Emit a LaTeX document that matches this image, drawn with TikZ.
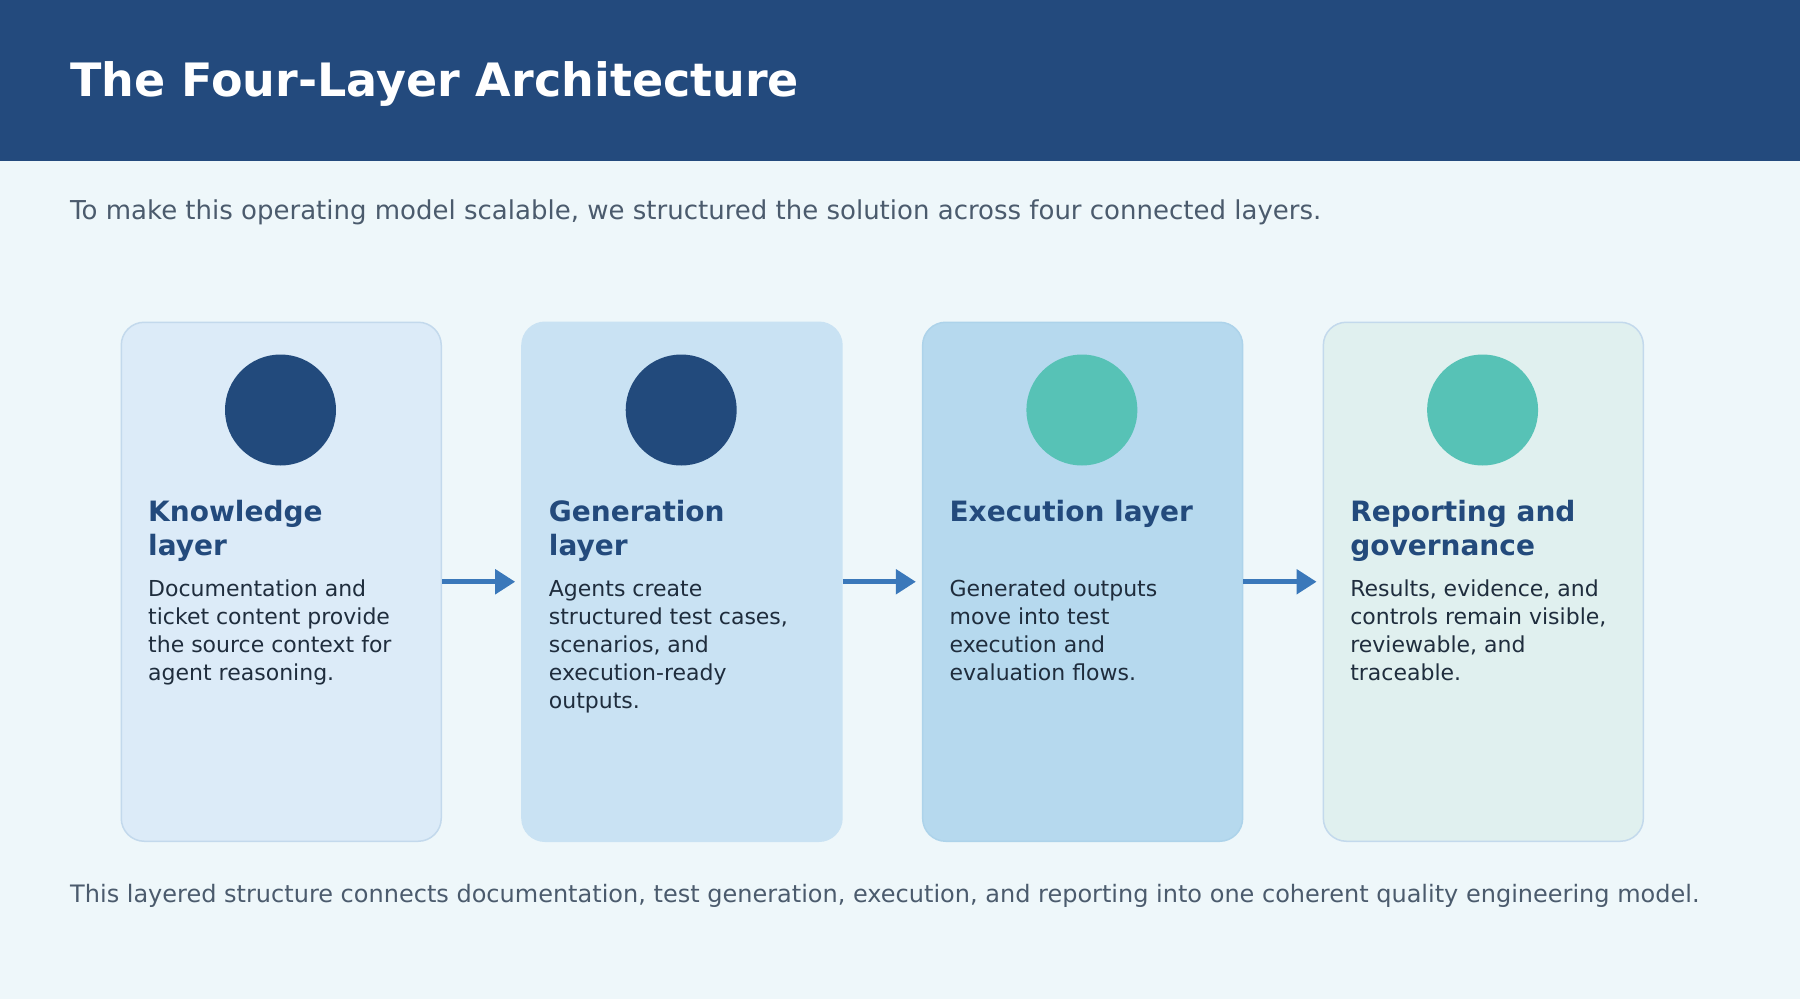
\documentclass[tikz,border=0pt]{standalone}
\usepackage{fontspec}
\setmainfont{DejaVu Sans}
\usetikzlibrary{arrows.meta}
\definecolor{bg}{HTML}{EEF7FA}
\definecolor{hdr}{HTML}{234A7D}
\definecolor{sub}{HTML}{4B5B6D}
\definecolor{ttl}{HTML}{234A7C}
\definecolor{body}{HTML}{1F2D3D}
\definecolor{fillA}{HTML}{DCEBF8}
\definecolor{fillB}{HTML}{C9E2F3}
\definecolor{fillC}{HTML}{B6D9EE}
\definecolor{fillD}{HTML}{E0F0EF}
\definecolor{bordA}{HTML}{C3D9EC}
\definecolor{bordC}{HTML}{ADD3EA}
\definecolor{dot1}{HTML}{224A7C}
\definecolor{dot2}{HTML}{57C2B6}
\definecolor{arr}{HTML}{3A78BA}
\tikzset{
  card/.style={draw=bordA, line width=1.5pt, rounded corners=23pt, minimum width=320pt, minimum height=519pt, inner sep=0pt, anchor=north west},
  dot/.style={circle, inner sep=0pt, minimum size=111pt},
  ctitle/.style={anchor=base west, inner sep=0pt, align=left, text=ttl, font=\fontsize{28}{34.4}\selectfont\bfseries},
  cbody/.style={anchor=base west, inner sep=0pt, align=left, text=body, font=\fontsize{22}{28}\selectfont},
  flow/.style={draw=arr, line width=5pt, -{Triangle[length=20pt,width=24pt]}, shorten >=6pt},
}
\begin{document}
\begin{tikzpicture}[x=1pt,y=-1pt]
\useasboundingbox (0,0) rectangle (1800,999);
\fill[bg] (0,0) rectangle (1800,999);
\fill[hdr] (0,0) rectangle (1800,160.5);
\node[anchor=base west, inner sep=0pt, text=white, font=\fontsize{46}{56}\selectfont\bfseries] (title) at (70,96.5) {The Four-Layer Architecture};
\node[anchor=base west, inner sep=0pt, text=sub, font=\fontsize{26}{32}\selectfont] (subtitle) at (70,219.5) {To make this operating model scalable, we structured the solution across four connected layers.};
% cards
\node[card, fill=fillA] (c1) at (120.5,321.5) {};
\node[card, fill=fillB, draw=fillB] (c2) at (521.2,321.5) {};
\node[card, fill=fillC, draw=bordC] (c3) at (921.9,321.5) {};
\node[card, fill=fillD] (c4) at (1322.6,321.5) {};
% circles
\node[dot, fill=dot1] (d1) at (280.5,410) {};
\node[dot, fill=dot1] (d2) at (681.2,410) {};
\node[dot, fill=dot2] (d3) at (1081.9,410) {};
\node[dot, fill=dot2] (d4) at (1482.6,410) {};
% titles (anchor at baseline of last line)
\node[ctitle] (t1) at (148,555.4) {Knowledge\\layer};
\node[ctitle] (t2) at (548.7,555.4) {Generation\\layer};
\node[ctitle] (t3) at (949.4,521) {Execution layer};
\node[ctitle] (t4) at (1350.1,555.4) {Reporting and\\governance};
% bodies (anchor at baseline of last line; first line at 596)
\node[cbody] (b1) at (148,680) {Documentation and\\ticket content provide\\the source context for\\agent reasoning.};
\node[cbody] (b2) at (548.7,708) {Agents create\\structured test cases,\\scenarios, and\\execution-ready\\outputs.};
\node[cbody] (b3) at (949.4,680) {Generated outputs\\move into test\\execution and\\evaluation flows.};
\node[cbody] (b4) at (1350.1,680) {Results, evidence, and\\controls remain visible,\\reviewable, and\\traceable.};
% arrows
\draw[flow] (c1.east) -- (c2.west);
\draw[flow] (c2.east) -- (c3.west);
\draw[flow] (c3.east) -- (c4.west);
\node[anchor=base west, inner sep=0pt, text=sub, font=\fontsize{24}{30}\selectfont] (footer) at (70,902) {This layered structure connects documentation, test generation, execution, and reporting into one coherent quality engineering model.};
\end{tikzpicture}
\end{document}
